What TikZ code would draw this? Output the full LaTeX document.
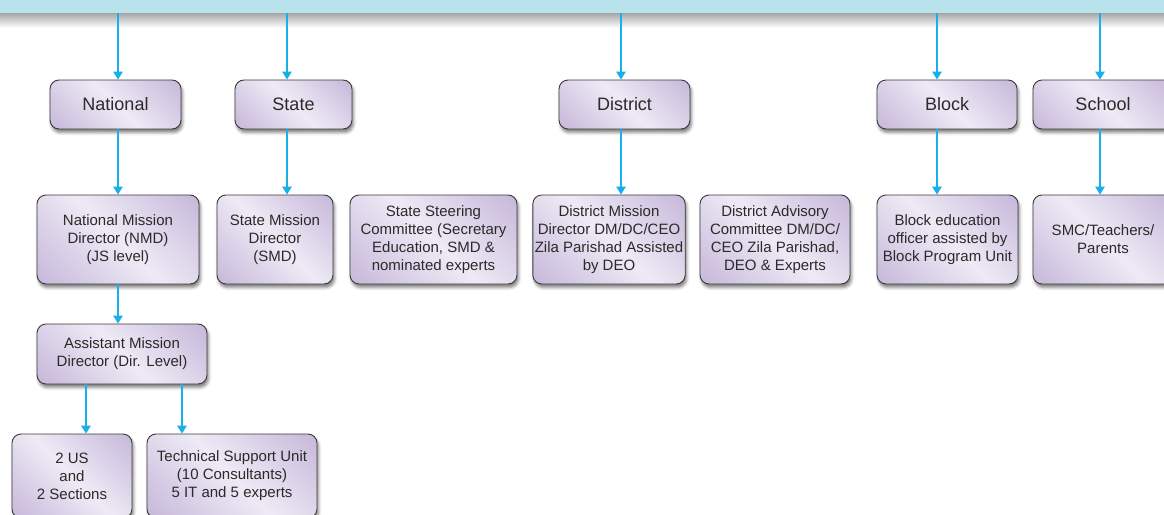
\documentclass[tikz,border=0pt]{standalone}
\usepackage{fontspec}
\setmainfont{Liberation Sans}
\usetikzlibrary{arrows.meta,shadows.blur}
\definecolor{lavD}{HTML}{BFAED5}
\definecolor{lavL}{HTML}{EEEAF5}
\definecolor{bandC}{HTML}{B8E2EC}
\definecolor{arrC}{HTML}{17B0E8}
\definecolor{edgeC}{HTML}{3A3A3A}
\definecolor{txtC}{HTML}{2A2A2A}
\pgfdeclarehorizontalshading{lav}{100bp}{color(0bp)=(lavD); color(8bp)=(lavD); color(50bp)=(lavL); color(92bp)=(lavD); color(100bp)=(lavD)}
\begin{document}
\begin{tikzpicture}[x=1pt,y=-1pt,
 box/.style={draw=edgeC, line width=0.9pt, rounded corners=9pt, shading=lav, shading angle=45,
   blur shadow={shadow xshift=1.5pt, shadow yshift=-3.5pt, shadow opacity=50, shadow blur radius=3pt},
   align=center, text=txtC, inner sep=2pt},
 lvl/.style={box, minimum height=49pt, font=\fontsize{18}{21}\selectfont},
 sub/.style={box, minimum height=89pt, font=\fontsize{15}{18}\selectfont},
 arr/.style={arrC, line width=1.4pt, -{Triangle[length=8pt,width=9.5pt]}}]
\useasboundingbox (0,0) rectangle (1164,514);
% top band
\shade[top color=black!35, bottom color=white] (0,13) rectangle (1164,28);
\fill[bandC] (0,0) rectangle (1164,13);
% level nodes
\node[lvl, minimum width=131pt] (nat) at (115.5,104.5) {National};
\node[lvl, minimum width=117pt] (st) at (293.5,104.5) {State};
\node[lvl, minimum width=131pt] (dist) at (624.5,104.5) {District};
\node[lvl, minimum width=140pt] (blk) at (947,104.5) {Block};
\node[lvl, minimum width=140pt] (sch) at (1103,104.5) {School};
% second row
\node[sub, minimum width=162pt] (nmd) at (118,239.5) {National Mission\\Director (NMD)\\(JS level)};
\node[sub, minimum width=116pt] (smd) at (275,239.5) {State Mission\\Director\\(SMD)};
\node[sub, minimum width=167pt] (ssc) at (433.5,239.5) {State Steering\\Committee (Secretary\\Education, SMD \&\\nominated experts};
\node[sub, minimum width=152pt] (dmd) at (609,239.5) {District Mission\\Director DM/DC/CEO\\Zila Parishad Assisted\\by DEO};
\node[sub, minimum width=150pt] (dac) at (775,239.5) {District Advisory\\Committee DM/DC/\\CEO Zila Parishad,\\DEO \& Experts};
\node[sub, minimum width=141pt] (beo) at (947.5,239.5) {Block education\\officer assisted by\\Block Program Unit};
\node[sub, minimum width=140pt] (smc) at (1103,239.5) {SMC/Teachers/\\Parents};
% third row
\node[sub, minimum width=170pt, minimum height=60pt] (amd) at (122,354) {Assistant Mission\\Director (Dir. Level)};
% fourth row
\node[sub, minimum width=120pt, minimum height=84pt] (us) at (72,476) {2 US\\and\\2 Sections};
\node[sub, minimum width=170pt, minimum height=84pt] (tsu) at (232,476) {Technical Support Unit\\(10 Consultants)\\5 IT and 5 experts};
% arrow columns
\coordinate (a1) at (118,13);
\coordinate (a2) at (287,13);
\coordinate (a3) at (621,13);
\coordinate (a4) at (937,13);
\coordinate (a5) at (1100,13);
\coordinate (b1) at (86,0);
\coordinate (b2) at (182,0);
\draw[arr] (a1) -- (a1 |- nat.north);
\draw[arr] (a2) -- (a2 |- st.north);
\draw[arr] (a3) -- (a3 |- dist.north);
\draw[arr] (a4) -- (a4 |- blk.north);
\draw[arr] (a5) -- (a5 |- sch.north);
\draw[arr] (nat.south -| a1) -- (nmd.north -| a1);
\draw[arr] (st.south -| a2) -- (smd.north -| a2);
\draw[arr] (dist.south -| a3) -- (dmd.north -| a3);
\draw[arr] (blk.south -| a4) -- (beo.north -| a4);
\draw[arr] (sch.south -| a5) -- (smc.north -| a5);
\draw[arr] (nmd.south -| a1) -- (amd.north -| a1);
\draw[arr] (amd.south -| b1) -- (us.north -| b1);
\draw[arr] (amd.south -| b2) -- (tsu.north -| b2);
\end{tikzpicture}
\end{document}
